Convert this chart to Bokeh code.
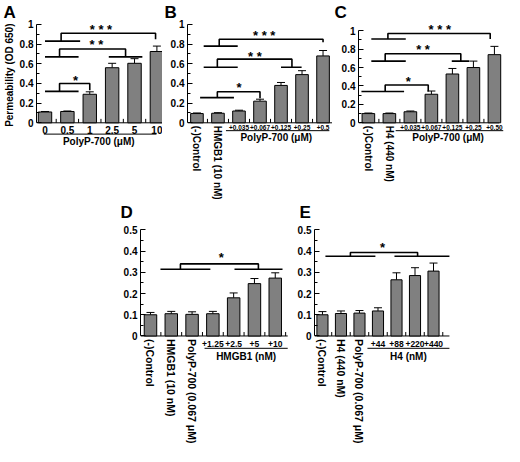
import math
from bokeh.plotting import figure
from bokeh.models import ColumnDataSource, Whisker, TeeHead, FixedTicker, Title
from bokeh.core.properties import value
from bokeh.layouts import column, row
from bokeh.embed import file_html
from bokeh.resources import INLINE

FONT = "Liberation Sans"

# ---- values ----
a_labels = ["0", "0.5", "1", "2.5", "5", "10"]
a_values = [0.11, 0.115, 0.29, 0.56, 0.605, 0.725]
a_errors = [0.005, 0.005, 0.025, 0.045, 0.047, 0.055]

b_labels = ["(-)Control", "HMGB1 (10 nM)", "+0.035", "+0.067", "+0.125", "+0.25", "+0.5"]
b_values = [0.094, 0.097, 0.12, 0.22, 0.38, 0.49, 0.68]
b_errors = [0.006, 0.006, 0.008, 0.02, 0.03, 0.04, 0.055]

c_labels = ["(-)Control", "H4 (440 nM)", "+0.035", "+0.067", "+0.125", "+0.25", "+0.50"]
c_values = [0.10, 0.10, 0.12, 0.31, 0.53, 0.60, 0.74]
c_errors = [0.006, 0.006, 0.008, 0.035, 0.06, 0.07, 0.09]

d_labels = ["(-)Control", "HMGB1 (10 nM)", "PolyP-700 (0.067 μM)", "+1.25", "+2.5", "+5", "+10"]
d_values = [0.10, 0.105, 0.102, 0.105, 0.18, 0.247, 0.273]
d_errors = [0.011, 0.011, 0.012, 0.011, 0.023, 0.024, 0.025]

e_labels = ["(-)Control", "H4 (440 nM)", "PolyP-700 (0.067 μM)", "+44", "+88", "+220", "+440"]
e_values = [0.10, 0.106, 0.108, 0.118, 0.265, 0.285, 0.306]
e_errors = [0.015, 0.012, 0.012, 0.015, 0.033, 0.037, 0.038]

top_ticks = [0, 0.2, 0.4, 0.6, 0.8, 1]
top_minor = [0.1, 0.3, 0.5, 0.7, 0.9]
bot_ticks = [0, 0.1, 0.2, 0.3, 0.4, 0.5]
bot_minor = [0.05, 0.15, 0.25, 0.35, 0.45]

# significance brackets: left line (x0, x1, y), leg x, top y, right x, right end y, right line
a_brackets = [(0, 1.5, 0.32, 0.65, 0.40, 2.0, 0.33, None),
              (0, 1.5, 0.67, 0.65, 0.75, 3.6, 0.67, (2.85, 4.35)),
              (0, 1.57, 0.83, 0.72, 0.91, 4.94, 0.85, None)]
a_stars = [(1.36, 0.46, "*"), (2.3, 0.82, "* *"), (2.5, 0.97, "* * *")]

b_brackets = [(0.15, 1.76, 0.256, 0.97, 0.315, 3.0, 0.25, None),
              (0.32, 1.94, 0.565, 0.97, 0.647, 4.52, 0.565, (4.0, 4.98)),
              (0.32, 1.94, 0.78, 1.06, 0.85, 6.0, 0.82, None)]
b_stars = [(2.0, 0.38, "*"), (2.76, 0.70, "* *"), (3.2, 0.91, "* * *")]

c_brackets = [(-0.33, 1.7, 0.34, 0.8, 0.41, 2.85, 0.34, None),
              (0.14, 1.78, 0.67, 0.8, 0.75, 4.4, 0.67, (3.97, 4.8)),
              (0.14, 1.78, 0.91, 0.93, 0.97, 5.8, 0.91, None)]
c_stars = [(1.9, 0.48, "*"), (2.6, 0.82, "* *"), (3.4, 1.04, "* * *")]

d_brackets = [(0.48, 2.88, 0.315, 1.44, 0.34, 5.19, 0.315, (4.04, 6.35))]
d_stars = [(3.41, 0.38, "*")]

e_brackets = [(0.16, 2.86, 0.376, 1.51, 0.394, 5.14, 0.376, (3.89, 6.86))]
e_stars = [(3.24, 0.43, "*")]


def bold(obj, prefix, size):
    setattr(obj, prefix + "_font", FONT)
    setattr(obj, prefix + "_font_style", "bold")
    setattr(obj, prefix + "_font_size", size)
    setattr(obj, prefix + "_color", "black")


def words(p, xs, ys, texts, size, **kw):
    p.text(x=xs, y=ys, text=texts, text_font=value(FONT), text_font_style="bold",
           text_font_size=size, text_color="black", **kw)


def panel(letter, labels, values, errors, brackets, stars, flat, rotated,
          group, group_label, lay, y_ticks, y_minor, y_label=None):
    w, h = lay["size"]
    left, top = lay["left"], lay["top"]
    x0, x1 = lay["x"]
    zero_px = lay["zero"]          # frame top -> y=0, in px
    fh = h - top
    y_end = lay["y_end"]
    yppu = zero_px / y_end
    y_start = -(fh - zero_px) / yppu

    p = figure(width=w, height=h, x_range=(x0, x1), y_range=(y_start, y_end),
               output_backend="svg", toolbar_location=None, x_axis_location=None,
               min_border_left=left, min_border_right=0,
               min_border_top=top, min_border_bottom=0)
    p.outline_line_color = None
    p.grid.visible = False

    p.title.text = letter
    p.title.align = "left"
    p.title.offset = -lay["letter"]
    p.title.standoff = 0
    bold(p.title, "text", "17px")

    ya = p.yaxis[0]
    ya.ticker = FixedTicker(ticks=y_ticks, minor_ticks=y_minor)
    ya.major_label_overrides = {t: f"{t:g}" for t in y_ticks}
    ya.bounds = (0, y_ticks[-1])
    ya.major_tick_in, ya.major_tick_out = 5, 0
    ya.minor_tick_in, ya.minor_tick_out = 3, 0
    ya.major_label_standoff = 3
    bold(ya, "major_label_text", "10px")
    if y_label:
        yt = Title(text=y_label, align="right", offset=2, standoff=3)
        bold(yt, "text", "10px")
        p.add_layout(yt, "left")

    idx = list(range(len(labels)))
    axis_end = lay.get("axis_end", x1)
    minor = [i + 0.5 for i in idx if i + 0.5 < axis_end]

    # category axis drawn inside the frame (room below zero for the labels)
    tdy, ldy, gdy = [v / yppu for v in lay["dy"]]
    p.segment(x0=[x0], y0=[0], x1=[axis_end], y1=[0], line_color="black", line_width=1)
    p.segment(x0=minor, y0=[0] * len(minor), x1=minor, y1=[4 / yppu] * len(minor),
              line_color="black", line_width=1)
    words(p, flat, [-tdy] * len(flat), [labels[i] for i in flat], lay["tick_size"],
          text_align="center", text_baseline="middle")
    p.segment(x0=[group[0]], y0=[-ldy], x1=[group[1]], y1=[-ldy],
              line_color="black", line_width=1)
    words(p, [(group[0] + group[1]) / 2], [-gdy], [group_label], "10px",
          text_align="center", text_baseline="middle")
    if rotated:
        words(p, rotated, [-3 / yppu] * len(rotated), [labels[i] for i in rotated],
              lay["rot_size"], angle=-math.pi / 2, text_align="left",
              text_baseline="middle")

    src = ColumnDataSource(dict(x=idx, top=values,
                                hi=[v + e for v, e in zip(values, errors)]))
    p.vbar(x="x", top="top", width=0.6, source=src, fill_color="#808080",
           line_color="black", line_width=1)
    p.add_layout(Whisker(source=src, base="x", lower="top", upper="hi",
                         lower_head=None, line_color="black", line_width=1,
                         upper_head=TeeHead(size=8, line_color="black", line_width=1)))

    xs, ys = [], []
    for lx0, lx1, ly, legx, ty, rx, ry, rline in brackets:
        xs += [[lx0, lx1], [legx, legx, rx, rx]]
        ys += [[ly, ly], [ly, ty, ty, ry]]
        if rline:
            xs.append(list(rline))
            ys.append([ry, ry])
    p.multi_line(xs, ys, line_color="black", line_width=1.6)

    words(p, [s[0] for s in stars], [s[1] - 2.5 / yppu for s in stars],
          [s[2] for s in stars], "13px", text_align="center", text_baseline="middle")
    return p


top_lay = dict(top=18, zero=103)
bot_lay = dict(top=18, zero=116, y_end=0.54, dy=(8.5, 12.5, 21), tick_size="8.5px",
               rot_size="10.5px")

pa = panel("A", a_labels, a_values, a_errors, a_brackets, a_stars, list(range(6)), [],
           (-0.05, 4.98), "PolyP-700  (μM)",
           dict(top_lay, size=(162, 200), left=33, x=(-0.38, 5.25), y_end=1.03,
                dy=(7, 11.5, 19), tick_size="10px", letter=33),
           top_ticks, top_minor, y_label="Permeability (OD 650)")
pb = panel("B", b_labels, b_values, b_errors, b_brackets, b_stars, [2, 3, 4, 5, 6], [0, 1],
           (1.38, 6.3), "PolyP-700  (μM)",
           dict(top_lay, size=(170, 200), left=25, x=(-0.45, 6.45), y_end=1.03,
                dy=(5, 8, 14.5), tick_size="6.5px", rot_size="10px", letter=23),
           top_ticks, top_minor)
pc = panel("C", c_labels, c_values, c_errors, c_brackets, c_stars, [2, 3, 4, 5, 6], [0, 1],
           (1.3, 6.42), "PolyP-700  (μM)",
           dict(top_lay, size=(172, 200), left=26, x=(-0.47, 6.48), axis_end=6.22,
                y_end=1.10, dy=(5, 8, 14.5), tick_size="6.5px", rot_size="10px", letter=24),
           top_ticks, top_minor)
pd = panel("D", d_labels, d_values, d_errors, d_brackets, d_stars, [3, 4, 5, 6], [0, 1, 2],
           (2.6, 6.6), "HMGB1 (nM)",
           dict(bot_lay, size=(292, 246), left=140, x=(-0.48, 6.83), axis_end=6.6, letter=20),
           bot_ticks, bot_minor)
pe = panel("E", e_labels, e_values, e_errors, e_brackets, e_stars, [3, 4, 5, 6], [0, 1, 2],
           (2.43, 6.86), "H4 (nM)",
           dict(bot_lay, size=(166, 246), left=22, x=(-0.43, 7.35), axis_end=6.86, letter=15),
           bot_ticks, bot_minor)

layout = column(row(pa, pb, pc), row(pd, pe))
open("out.html", "w").write(file_html(layout, INLINE))
